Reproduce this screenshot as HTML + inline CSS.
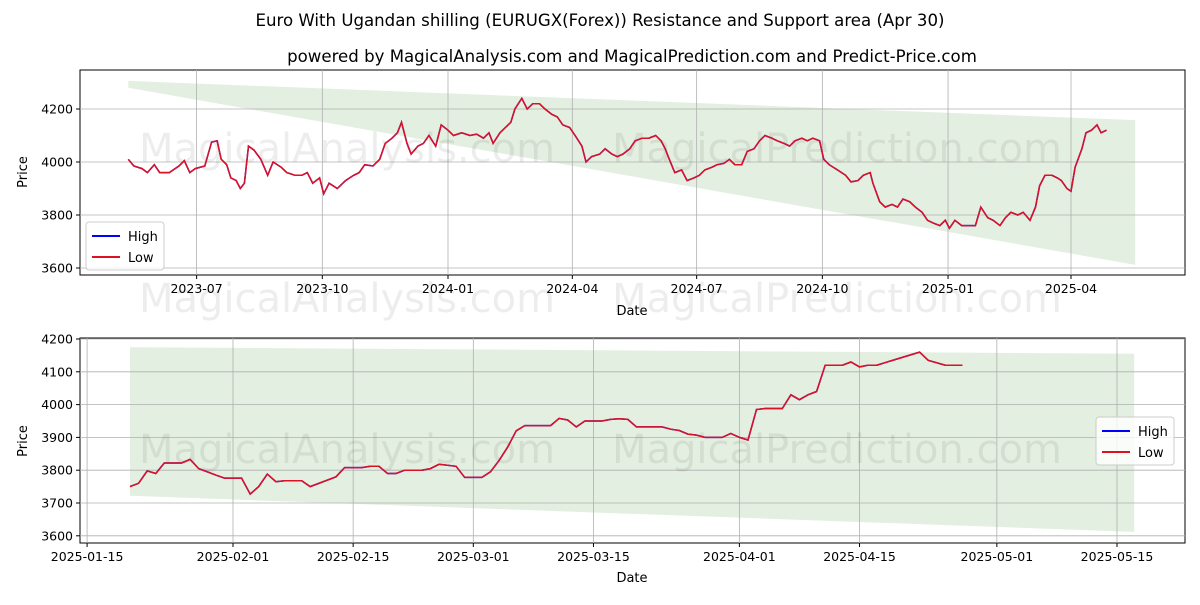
<!DOCTYPE html>
<html><head><meta charset="utf-8"><style>
body{margin:0;background:#fff;font-family:"Liberation Sans","DejaVu Sans",sans-serif}
svg text{font-family:"DejaVu Sans","Liberation Sans",sans-serif}
</style></head><body>
<svg id="c" width="1200" height="600" xmlns="http://www.w3.org/2000/svg">
<rect width="1200" height="600" fill="#fff"/>
<text x="600" y="26" text-anchor="middle" font-size="16.6">Euro With Ugandan shilling (EURUGX(Forex)) Resistance and Support area (Apr 30)</text>
<text x="632" y="62" text-anchor="middle" font-size="16.6">powered by MagicalAnalysis.com and MagicalPrediction.com and Predict-Price.com</text>
<g id="top"></g>
<g id="bot"></g>
</svg>
<script>
// Top chart data (days after 2023-05-12)
const topDays=[0,4,10,14,19,23,30,37,41,45,49,56,61,65,68,72,75,79,82,85,88,92,97,102,106,112,116,122,127,131,135,140,143,147,153,159,165,169,173,179,184,188,193,197,200,204,207,212,216,220,225,229,234,238,244,250,255,260,264,267,272,276,280,283,288,292,296,301,305,310,314,318,323,327,332,335,339,345,349,354,358,362,367,371,376,381,386,390,393,396,400,405,409,414,418,422,427,431,436,440,444,449,453,458,462,466,471,475,480,484,488,493,497,501,506,509,513,519,525,529,534,538,543,545,550,554,559,563,567,572,576,581,585,589,594,598,601,605,610,614,620,624,629,633,638,642,646,651,655,660,664,667,671,676,680,683,687,690,693,698,701,705,709,712,716];
const topValues=[4010,3985,3975,3960,3990,3960,3960,3985,4005,3960,3975,3985,4075,4080,4010,3990,3940,3930,3900,3920,4060,4045,4010,3950,4000,3980,3960,3950,3950,3960,3920,3940,3880,3920,3900,3930,3950,3960,3990,3985,4010,4070,4090,4110,4150,4070,4030,4060,4070,4100,4060,4140,4120,4100,4110,4100,4105,4090,4110,4070,4110,4130,4150,4200,4240,4200,4220,4220,4200,4180,4170,4140,4130,4100,4060,4000,4020,4030,4050,4030,4020,4030,4050,4080,4090,4090,4100,4080,4050,4010,3960,3970,3930,3940,3950,3970,3980,3990,3995,4010,3990,3990,4040,4050,4080,4100,4090,4080,4070,4060,4080,4090,4080,4090,4080,4010,3990,3970,3950,3925,3930,3950,3960,3920,3850,3830,3840,3830,3860,3850,3830,3810,3780,3770,3760,3780,3750,3780,3760,3760,3760,3830,3790,3780,3760,3790,3810,3800,3810,3780,3830,3910,3950,3950,3940,3930,3900,3890,3980,4050,4110,4120,4140,4110,4120];
const topStart="2023-05-12";
const topTicks=["2023-07-01","2023-10-01","2024-01-01","2024-04-01","2024-07-01","2024-10-01","2025-01-01","2025-04-01"];
const topTickLabels=["2023-07","2023-10","2024-01","2024-04","2024-07","2024-10","2025-01","2025-04"];
const topYTicks=[3600,3800,4000,4200];
const topBandDates=["2023-05-12","2025-05-18"];
const topBandUpper=[4306,4158];
const topBandLower=[4280,3612];
// Bottom chart data (days after 2025-01-20)
const botDays=[0,1,2,3,4,6,7,8,10,11,13,14,15,16,17,18,20,21,24,25,27,28,29,30,31,32,34,35,36,38,39,41,42,43,44,45,46,49,50,51,52,53,55,56,57,58,59,62,63,64,65,66,67,69,70,71,72,73,74,76,77,78,79,80,81,83,84,85,86,87,92,93,95,97];
const botValues=[3750,3760,3798,3790,3822,3822,3833,3805,3785,3776,3776,3727,3750,3788,3765,3768,3768,3750,3780,3808,3808,3812,3812,3790,3790,3800,3800,3805,3818,3812,3778,3778,3795,3830,3870,3920,3936,3936,3958,3953,3932,3950,3950,3955,3957,3955,3932,3932,3925,3921,3910,3907,3900,3900,3912,3900,3892,3985,3988,3988,4030,4015,4030,4040,4120,4120,4130,4115,4120,4120,4160,4135,4120,4120];
const botTicks=["2025-01-15","2025-02-01","2025-02-15","2025-03-01","2025-03-15","2025-04-01","2025-04-15","2025-05-01","2025-05-15"];
const botYTicks=[3600,3700,3800,3900,4000,4100,4200];
const botBandDays=[0,117];
const botBandUpper=[4175,4155];
const botBandLower=[3722,3612];

const NS="http://www.w3.org/2000/svg";
function mk(p,t,a){const e=document.createElementNS(NS,t);for(const k in a)e.setAttribute(k,a[k]);p.appendChild(e);return e;}
const D=s=>Date.parse(s)/864e5;

function panel(g,L,T,R,B,xf,yf,yticks,xticks,xlabels,bandX,bandU,bandL,lineXs,lineVs,legY,wmY){
  mk(g,'rect',{x:L,y:T,width:R-L,height:B-T,fill:'none',stroke:'#000','stroke-width':1});
  const band=mk(g,'polygon',{points:`${xf(bandX[0])},${yf(bandU[0])} ${xf(bandX[1])},${yf(bandU[1])} ${xf(bandX[1])},${yf(bandL[1])} ${xf(bandX[0])},${yf(bandL[0])}`,fill:'#e3efe0'});
  
  
  xticks.forEach((t,i)=>{const x=xf(t);
    mk(g,'line',{x1:x,x2:x,y1:T,y2:B,stroke:'#b0b0b0','stroke-width':0.8});
    mk(g,'line',{x1:x,x2:x,y1:B,y2:B+4,stroke:'#000'});
    const tx=mk(g,'text',{x:x,y:B+18,'text-anchor':'middle','font-size':12.5});tx.textContent=xlabels[i];
    
    });
  yticks.forEach(v=>{const y=yf(v);
    mk(g,'line',{x1:L,x2:R,y1:y,y2:y,stroke:'#b0b0b0','stroke-width':0.8});
    mk(g,'line',{x1:L-4,x2:L,y1:y,y2:y,stroke:'#000'});
    const tx=mk(g,'text',{x:L-7,y:y+4.5,'text-anchor':'end','font-size':12.5});tx.textContent=v;
    
    });
  [["MagicalAnalysis.com",347],["MagicalPrediction.com",837]].forEach(w=>wmY.forEach(y=>{
    const tx=mk(g,'text',{x:w[1],y:y,'text-anchor':'middle','font-size':40,fill:'#000','fill-opacity':0.07});tx.textContent=w[0];
    
    }));
  const pts=lineXs.map((x,i)=>`${xf(x).toFixed(1)},${yf(lineVs[i]).toFixed(1)}`).join(' ');
  const hl=mk(g,'polyline',{points:pts,fill:'none',stroke:'#0000ff','stroke-width':1.5});
  
  
  const ll=mk(g,'polyline',{points:pts,fill:'none',stroke:'#dd1122','stroke-width':1.5});
  
  
  const lg=mk(g,'g',{});
  
  
  const lx=legY[0],ly=legY[1];
  mk(lg,'rect',{x:lx,y:ly,width:78,height:48,rx:3,fill:'#fff','fill-opacity':0.8,stroke:'#ccc'});
  [['High','#0000ff'],['Low','#dd1122']].forEach((e,i)=>{const yy=ly+14+i*21;
    mk(lg,'line',{x1:lx+6,x2:lx+34,y1:yy,y2:yy,stroke:e[1],'stroke-width':2});
    const tx=mk(lg,'text',{x:lx+42,y:yy+5,'font-size':13});tx.textContent=e[0];
    
    });
}
// top
{const L=80,R=1185,T=70,B=275;const a=D("2024-01-01"),k=(1071-448)/(D("2025-04-01")-D("2024-01-01"));
 const xf=d=>448+(d-a)*k; const yf=v=>162-(v-4000)*53/200;
 const s=D(topStart);
 const xs=topDays.map(d=>s+d);
 panel(document.getElementById('top'),L,T,R,B,xf,yf,topYTicks,topTicks.map(D),topTickLabels,topBandDates.map(D),topBandUpper,topBandLower,xs,topValues,[86,222],[162,312]);
 const g=document.getElementById('top');
 let t=mk(g,'text',{x:632,y:315,'text-anchor':'middle','font-size':13});t.textContent='Date';
 t=mk(g,'text',{x:27,y:172,'text-anchor':'middle','font-size':13,transform:'rotate(-90 27 172)'});t.textContent='Price';}
// bottom
{const L=80,R=1185,T=338,B=543;const d0=D("2025-01-20"),a=D("2025-02-01"),k=(1117-233)/(D("2025-05-15")-D("2025-02-01"));
 const xf=d=>233+(d-a)*k;
 const yf2=v=>339+(4200-v)*0.328;
 panel(document.getElementById('bot'),L,T,R,B,xf,yf2,botYTicks,botTicks.map(D),botTicks,botBandDays.map(x=>d0+x),botBandUpper,botBandLower,botDays.map(x=>d0+x),botValues,[1096,417],[463]);
 const g=document.getElementById('bot');
 let t=mk(g,'text',{x:632,y:582,'text-anchor':'middle','font-size':13});t.textContent='Date';
 t=mk(g,'text',{x:27,y:441,'text-anchor':'middle','font-size':13,transform:'rotate(-90 27 441)'});t.textContent='Price';}
</script>
</body></html>
